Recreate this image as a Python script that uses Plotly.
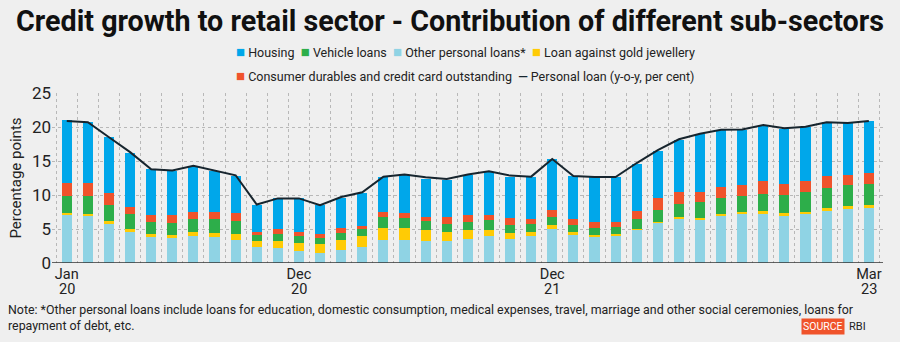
import plotly.graph_objects as go

months = list(range(39))
tick_pos = [0, 11, 23, 38]
tick_month = ["Jan", "Dec", "Dec", "Mar"]
tick_year = ["20", "20", "21", "23"]

other_personal = [7.0, 6.9, 5.8, 4.6, 3.8, 3.7, 4.0, 3.8, 3.4, 2.3, 2.2, 1.7,
                  1.4, 1.9, 2.35, 3.4, 3.4, 3.3, 3.2, 3.5, 3.9, 3.6, 4.0, 5.0,
                  4.1, 3.8, 4.0, 4.9, 6.0, 6.5, 6.4, 6.9, 7.2, 7.25, 6.95, 7.15,
                  7.7, 8.0, 8.1]
gold = [0.4, 0.35, 0.4, 0.4, 0.4, 0.4, 0.5, 0.6, 0.9, 0.9, 1.1, 1.2,
        1.4, 1.5, 1.65, 1.8, 1.7, 1.6, 1.3, 1.3, 1.0, 0.8, 0.6, 0.6,
        0.4, 0.3, 0.2, 0.15, 0.1, 0.2, 0.2, 0.35, 0.3, 0.35, 0.4, 0.35,
        0.4, 0.4, 0.4]
vehicle = [2.5, 2.55, 2.3, 2.2, 1.8, 1.8, 2.0, 2.0, 1.9, 0.9, 1.0, 1.1,
           0.9, 1.0, 1.0, 1.5, 1.5, 1.3, 1.3, 1.3, 1.4, 1.2, 1.2, 1.2,
           1.1, 1.1, 1.1, 1.35, 1.7, 2.0, 2.3, 2.35, 2.4, 2.6, 2.65, 3.0,
           3.0, 3.0, 3.1]
consumer_durables = [1.9, 1.9, 1.8, 1.1, 1.0, 1.1, 1.0, 1.1, 1.1, 0.5, 0.7, 0.6,
                     0.6, 0.7, 0.5, 0.8, 0.7, 0.5, 0.9, 0.9, 0.8, 1.0, 0.7, 1.0,
                     0.9, 0.8, 0.8, 1.3, 1.7, 1.7, 1.6, 1.6, 1.5, 1.8, 1.6, 1.5,
                     1.75, 1.5, 1.6]
housing = [9.2, 9.0, 8.2, 7.9, 6.8, 6.6, 6.8, 6.1, 5.5, 4.0, 4.5, 4.9,
           4.2, 4.4, 4.8, 5.2, 5.7, 5.7, 5.55, 5.9, 6.3, 6.1, 6.2, 7.5,
           6.3, 6.6, 6.55, 6.85, 6.9, 7.7, 8.4, 8.3, 8.2, 8.2, 8.15, 8.0,
           7.85, 7.7, 7.7]
personal_loan = [20.9, 20.7, 18.5, 16.3, 13.8, 13.6, 14.3, 13.6, 12.9, 8.6, 9.5, 9.5,
                 8.5, 9.7, 10.4, 12.7, 13.0, 12.6, 12.35, 13.0, 13.5, 12.85, 12.7, 15.3,
                 12.8, 12.65, 12.65, 14.7, 16.6, 18.2, 19.0, 19.6, 19.65, 20.3, 19.8, 20.05,
                 20.7, 20.6, 20.9]

FONT = "Roboto, sans-serif"
C_OTHER, C_GOLD, C_VEH, C_CD, C_HOUS, C_LINE = "#8FD3E4", "#FFCB05", "#2DAE4A", "#F0532B", "#00A7EA", "#17252e"

fig = go.Figure()
bar_specs = [
    ("Other personal loans*", other_personal, C_OTHER),
    ("Loan against gold jewellery", gold, C_GOLD),
    ("Vehicle loans", vehicle, C_VEH),
    ("Consumer durables and credit card outstanding", consumer_durables, C_CD),
    ("Housing", housing, C_HOUS),
]
for name, vals, color in bar_specs:
    fig.add_trace(go.Bar(x=months, y=vals, name=name, marker_color=color,
                         marker_line_width=0, width=0.48, showlegend=False))
fig.add_trace(go.Scatter(x=months, y=personal_loan, name="Personal loan (y-o-y, per cent)",
                         mode="lines", line=dict(color=C_LINE, width=2), showlegend=False))

fig.update_layout(
    barmode="stack",
    width=900, height=342,
    margin=dict(l=52, r=17, t=93, b=79),
    paper_bgcolor="#efefef", plot_bgcolor="#efefef",
    font=dict(family=FONT, color="#222"),
    title=dict(text="<b>Credit growth to retail sector - Contribution of different sub-sectors</b>",
               x=0.5, xanchor="center", y=0.94, yanchor="middle",
               font=dict(size=28.7, color="#111", family=FONT)),
    showlegend=False,
    xaxis=dict(range=[-0.7, 38.67], tickvals=tick_pos, ticktext=tick_month,
               showgrid=False, zeroline=False, showline=False,
               tickfont=dict(size=14.5, color="#222"), ticks="", ticklabelstandoff=0,
               minor=dict(tick0=0.5, dtick=1, showgrid=True, gridcolor="#b8b8b8",
                          griddash="dot", gridwidth=1)),
    yaxis=dict(range=[0, 25], tickvals=[0, 5, 10, 15, 20, 25],
               showgrid=True, gridcolor="#b8b8b8", griddash="dot", gridwidth=1,
               zeroline=False, showline=False,
               tickfont=dict(size=17, color="#222"),
               title=dict(text="Percentage points", font=dict(size=15, color="#222"), standoff=6)),
)
fig.add_shape(type="line", xref="paper", yref="y", x0=0, x1=1, y0=0, y1=0,
              line=dict(color="#333", width=1.5))

for xp, yr in zip(tick_pos, tick_year):
    fig.add_annotation(x=xp, xref="x", yref="paper", y=(263.3-289.5)/170,
                       xanchor="center", yanchor="middle", showarrow=False,
                       text=yr, font=dict(size=14.5, color="#222"))

def sq(c):
    return f'<span style="color:{c};font-size:15px">■</span>'

row1 = (f'{sq(C_HOUS)} Housing  {sq(C_VEH)} Vehicle loans  {sq(C_OTHER)} Other personal loans*  '
        f'{sq(C_GOLD)} Loan against gold jewellery')
row2 = (f'{sq(C_CD)} Consumer durables and credit card outstanding  '
        f'<span style="color:{C_LINE}"><b>—</b></span> Personal loan (y-o-y, per cent)')
fig.add_annotation(xref="paper", yref="paper", x=(465-52)/831, y=(263.3-52)/170,
                   xanchor="center", yanchor="middle", showarrow=False, text=row1,
                   font=dict(size=12.5, color="#222"))
fig.add_annotation(xref="paper", yref="paper", x=(465-52)/831, y=(263.3-76)/170,
                   xanchor="center", yanchor="middle", showarrow=False, text=row2,
                   font=dict(size=12.5, color="#222"))

fig.add_annotation(xref="paper", yref="paper", x=-46/831, y=-0.215, xanchor="left", yanchor="top",
                   align="left", showarrow=False,
                   text="Note: *Other personal loans include loans for education, domestic consumption, medical expenses, travel, marriage and other social ceremonies, loans for<br>repayment of debt, etc.",
                   font=dict(size=12.4, color="#222"))
fig.add_annotation(xref="paper", yref="paper", x=(845-52)/831, y=-0.375, xanchor="right", yanchor="middle",
                   showarrow=False, text="SOURCE", bgcolor="#F0532B",
                   font=dict(size=10.5, color="white"), borderpad=1)
fig.add_annotation(xref="paper", yref="paper", x=(847-52)/831, y=-0.375, xanchor="left", yanchor="middle",
                   showarrow=False, text="RBI", font=dict(size=11, color="#222"))

fig.write_html("out.html")
